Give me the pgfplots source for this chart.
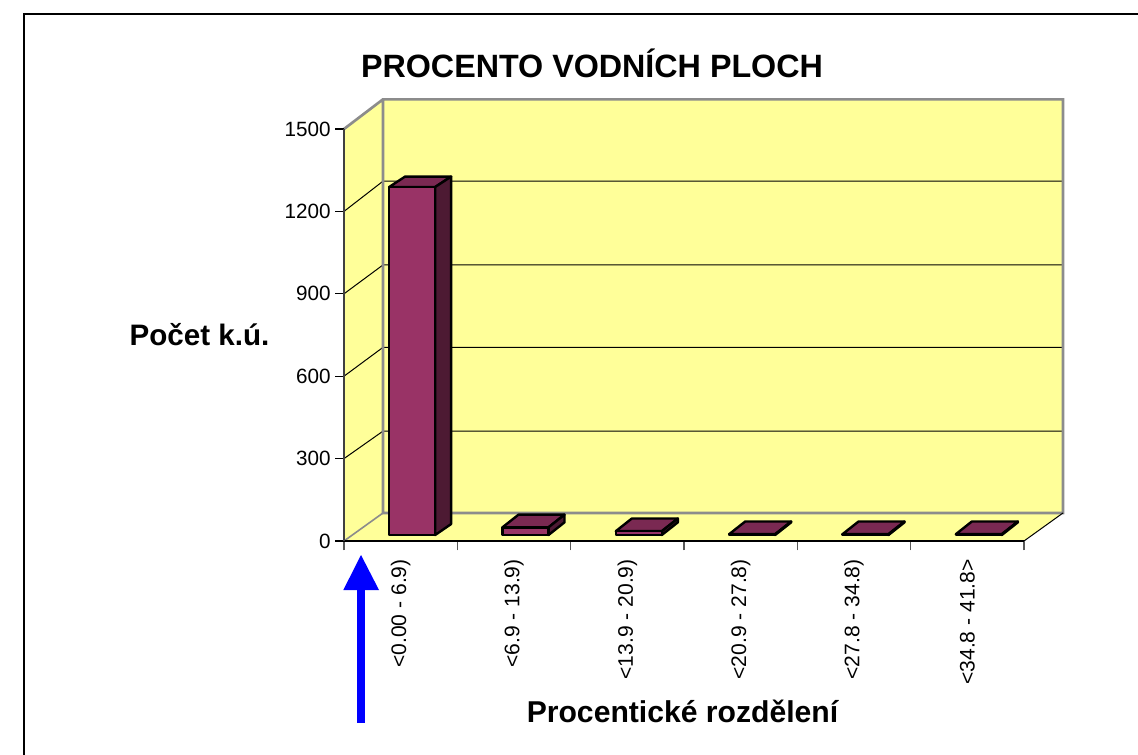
\documentclass[border=0pt]{standalone}
\usepackage{pgfplots}
\pgfplotsset{compat=1.18}
\usepackage{pgfplotstable}
\usepackage{fontspec}
\setmainfont{Liberation Sans}
\definecolor{wall}{HTML}{FFFF99}
\definecolor{barfront}{HTML}{993366}
\definecolor{bartop}{HTML}{7A2952}
\definecolor{barside}{HTML}{4D1A33}
\definecolor{edge}{HTML}{8C8C8C}
\pgfplotstableread{
x v
0.5 1267
1.5 28
2.5 14
3.5 3
4.5 3
5.5 3
}\bardata
\begin{document}
\begin{tikzpicture}[x=0.75pt,y=-0.75pt]
\path[use as bounding box] (0,0) rectangle (1138,755);
\coordinate (front) at (344,541);
\coordinate (barsorigin) at (355.5,535);
% frame
\draw[black,line width=1.5pt] (24,755) -- (24,14) -- (1138,14);
% walls, floor, grid, ticks
\begin{axis}[
  at={(front)}, anchor=origin, scale only axis,
  width=510pt, height=309pt,
  xmin=0, xmax=6, ymin=0, ymax=1500, clip=false,
  axis lines=left, axis line style={-}, axis on top,
  x axis line style={black,line width=1.1pt},
  y axis line style={black!75,line width=1.7pt},
  xtick={0.5,1.5,2.5,3.5,4.5,5.5},
  xticklabels={{<0.00 - 6.9)},{<6.9 - 13.9)},{<13.9 - 20.9)},{<20.9 - 27.8)},{<27.8 - 34.8)},{<34.8 - 41.8>}},
  minor xtick={0,1,2,3,4,5,6},
  ytick={0,300,600,900,1200,1500},
  tick align=outside,
  major tick length=6.5pt,
  minor tick length=7pt,
  major x tick style={draw=none},
  minor x tick style={black!65,line width=1pt},
  major y tick style={black,line width=0.8pt},
  x tick label style={rotate=90,anchor=east,font=\fontsize{15.8}{15.8}\selectfont,xshift=-3.75pt},
  y tick label style={font=\fontsize{15.5}{15.5}\selectfont},
  /pgf/number format/assume math mode=true,
  /pgf/number format/1000 sep={},
]
\addplot[fill=wall,draw=none] coordinates {(0,0) (0.344,102) (0.344,1608) (0,1500)} --cycle;
\addplot[fill=wall,draw=none] coordinates {(0.344,102) (6.344,102) (6.344,1608) (0.344,1608)} --cycle;
\addplot[fill=wall,draw=none] coordinates {(0,0) (6,0) (6.344,102) (0.344,102)} --cycle;
\addplot[black,line width=0.75pt] coordinates {(0,300) (0.344,400) (6.344,400)};
\addplot[black,line width=0.75pt] coordinates {(0,600) (0.344,705) (6.344,705)};
\addplot[black,line width=0.75pt] coordinates {(0,900) (0.344,1005) (6.344,1005)};
\addplot[black,line width=0.75pt] coordinates {(0,1200) (0.344,1310) (6.344,1310)};
\addplot[edge,line width=2pt] coordinates {(0,1500) (0.344,1608) (6.344,1608) (6.344,102) (0.344,102) (0.344,1608)};
\addplot[edge,line width=1.2pt] coordinates {(0,0) (0.344,102)};
\addplot[black,line width=0.75pt] coordinates {(6,0) (6.344,102)};
\end{axis}
% bars
\begin{axis}[
  at={(barsorigin)}, anchor=origin, scale only axis,
  width=510pt, height=309pt,
  xmin=0, xmax=6, ymin=0, ymax=1500, clip=false,
  hide axis,
]
\pgfplotsset{every axis plot/.append style={draw=black,line width=1.8pt,line join=round}}
\addplot[fill=bartop] coordinates {(0.297,1267) (0.703,1267) (0.844,1305) (0.438,1305)} --cycle;
\addplot[fill=barside] coordinates {(0.703,0) (0.703,1267) (0.844,1305) (0.844,40)} --cycle;
\addplot[fill=bartop] coordinates {(1.297,28) (1.703,28) (1.844,74) (1.438,74)} --cycle;
\addplot[fill=barside] coordinates {(1.703,0) (1.703,28) (1.844,74) (1.844,46)} --cycle;
\addplot[fill=bartop] coordinates {(2.297,14) (2.703,14) (2.844,60) (2.438,60)} --cycle;
\addplot[fill=barside] coordinates {(2.703,0) (2.703,14) (2.844,60) (2.844,46)} --cycle;
\addplot[fill=bartop] coordinates {(3.297,3) (3.703,3) (3.844,49) (3.438,49)} --cycle;
\addplot[fill=barside] coordinates {(3.703,0) (3.703,3) (3.844,49) (3.844,46)} --cycle;
\addplot[fill=bartop] coordinates {(4.297,3) (4.703,3) (4.844,49) (4.438,49)} --cycle;
\addplot[fill=barside] coordinates {(4.703,0) (4.703,3) (4.844,49) (4.844,46)} --cycle;
\addplot[fill=bartop] coordinates {(5.297,3) (5.703,3) (5.844,49) (5.438,49)} --cycle;
\addplot[fill=barside] coordinates {(5.703,0) (5.703,3) (5.844,49) (5.844,46)} --cycle;
\addplot[ybar,bar width=34.5pt,fill=barfront] table[x=x,y=v] {\bardata};
\end{axis}
% texts
\node[anchor=base,font=\fontsize{24.2}{24.2}\selectfont\bfseries] at (592,78) {PROCENTO VODNÍCH PLOCH};
\node[anchor=base,font=\fontsize{22.2}{22.2}\selectfont\bfseries] at (199.5,345.7) {Počet k.ú.};
\node[anchor=base,font=\fontsize{22.6}{22.6}\selectfont\bfseries] at (682.5,722.7) {Procentické rozdělení};
% arrow
\fill[blue] (357,723) rectangle (365,590);
\fill[blue] (343.3,590) -- (361,555) -- (379,590) -- cycle;
\end{tikzpicture}
\end{document}
